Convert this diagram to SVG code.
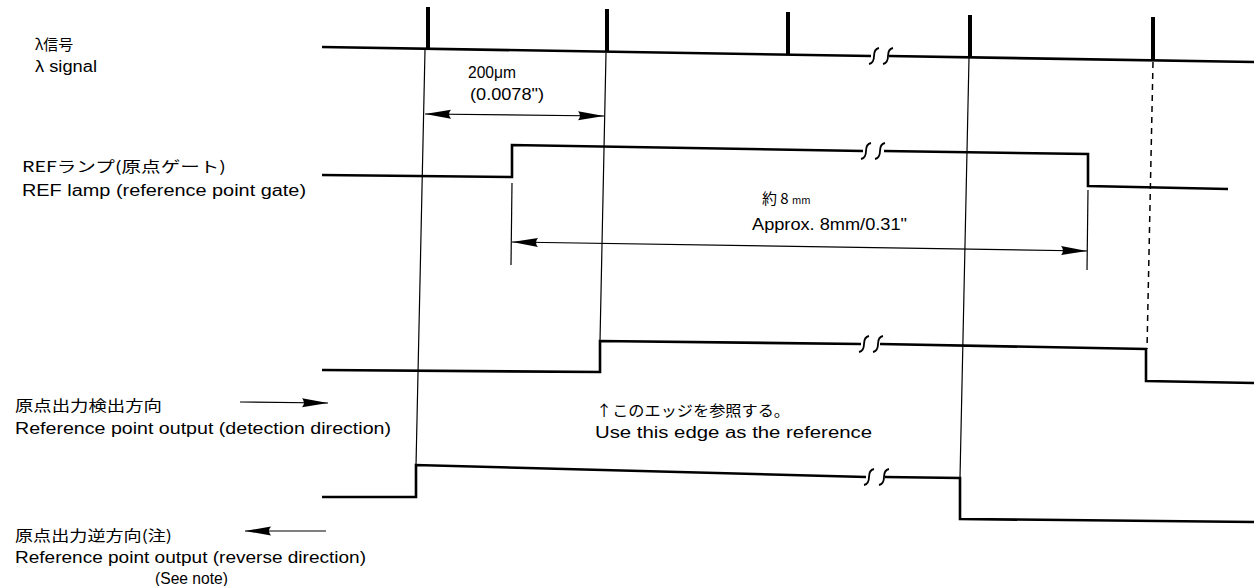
<svg xmlns="http://www.w3.org/2000/svg" width="1254" height="586" viewBox="0 0 1254 586">
<style>
.sig{fill:none;stroke:#000;stroke-width:2.6;stroke-linejoin:miter}
.thin{fill:none;stroke:#000;stroke-width:1.2}
.tick{stroke:#000;stroke-width:4}
.brk{fill:none;stroke:#000;stroke-width:1.8}
.dash{fill:none;stroke:#000;stroke-width:1.5;stroke-dasharray:6,5}
.t{font-family:"Liberation Sans","Noto Sans CJK JP",sans-serif;font-size:16px;fill:#000}
.j{font-family:"Noto Sans CJK JP","Liberation Sans",sans-serif;font-size:15px;fill:#000}
</style>
<defs>
<marker id="ah" viewBox="0 0 26 10" refX="26" refY="5" markerWidth="26" markerHeight="10" markerUnits="userSpaceOnUse" orient="auto-start-reverse">
<path d="M0,0.5 L26,5 L0,9.5 Q4,5 0,0.5 Z" fill="#000"/>
</marker>
</defs>

<g id="lambda-signal">
<path class="sig" d="M322,47 L871,56 M889,56 L1254,62"/>
<path class="brk" d="M869,64 Q874,63 874,56 Q874,49 879,48 M883,64 Q888,63 888,56 Q888,49 893,48"/>
<line class="tick" x1="428" y1="7" x2="428" y2="49"/>
<line class="tick" x1="607" y1="9" x2="607" y2="52"/>
<line class="tick" x1="788" y1="12" x2="788" y2="55"/>
<line class="tick" x1="970" y1="15" x2="970" y2="58"/>
<line class="tick" x1="1153" y1="17" x2="1153" y2="61"/>
<text class="j" x="35" y="50">λ信号</text>
<text class="t" x="35" y="72" textLength="62" lengthAdjust="spacingAndGlyphs">λ signal</text>
</g>

<g id="ref-lamp">
<path class="sig" d="M322,175 L512,177 L512,145 L863,151 M884,151 L1088,154 L1088,186 L1228,189"/>
<path class="brk" d="M861,159 Q866,158 866,151 Q866,144 871,143 M875,159 Q880,158 880,151 Q880,144 885,143"/>
<text class="j" x="22" y="172" textLength="204" lengthAdjust="spacingAndGlyphs">REFランプ(原点ゲート)</text>
<text class="t" x="22" y="196" textLength="284" lengthAdjust="spacingAndGlyphs">REF lamp (reference point gate)</text>
</g>

<g id="detection-output">
<path class="sig" d="M322,370 L600,372 L600,341 L861,344 M880,344 L1146,349 L1146,381 L1254,383"/>
<path class="brk" d="M859,352 Q864,351 864,344 Q864,337 869,336 M873,352 Q878,351 878,344 Q878,337 883,336"/>
<text class="j" x="15" y="411" textLength="147" lengthAdjust="spacingAndGlyphs">原点出力検出方向</text>
<text class="t" x="15" y="434" textLength="376" lengthAdjust="spacingAndGlyphs">Reference point output (detection direction)</text>
</g>

<g id="reverse-output">
<path class="sig" d="M322,497 L416,497 L416,465 L866,477 M885,477 L960,478 L960,519 L1254,522"/>
<path class="brk" d="M864,485 Q869,484 869,477 Q869,470 874,469 M879,485 Q884,484 884,477 Q884,470 889,469"/>
<text class="j" x="15" y="541" textLength="157" lengthAdjust="spacingAndGlyphs">原点出力逆方向(注)</text>
<text class="t" x="15" y="563" textLength="351" lengthAdjust="spacingAndGlyphs">Reference point output (reverse direction)</text>
<text class="t" x="155" y="584" textLength="73" lengthAdjust="spacingAndGlyphs">(See note)</text>
</g>

<g id="annotations">
<text class="t" x="468" y="78" textLength="48" lengthAdjust="spacingAndGlyphs">200μm</text>
<text class="t" x="470" y="100" textLength="74" lengthAdjust="spacingAndGlyphs">(0.0078")</text>
<text class="j" x="762" y="204">約 8 <tspan font-size="10">mm</tspan></text>
<text class="t" x="752" y="230" textLength="155" lengthAdjust="spacingAndGlyphs">Approx. 8mm/0.31"</text>
<text class="j" x="596" y="416" textLength="194" lengthAdjust="spacingAndGlyphs">↑このエッジを参照する。</text>
<text class="t" x="595" y="438" textLength="277" lengthAdjust="spacingAndGlyphs">Use this edge as the reference</text>
</g>

<g id="connectors">
<line class="thin" x1="425" y1="50" x2="416" y2="466"/>
<line class="thin" x1="606" y1="53" x2="600" y2="341"/>
<line class="thin" x1="969" y1="58" x2="960" y2="478"/>
<line class="dash" x1="1153" y1="62" x2="1147" y2="349"/>
<line class="thin" x1="512" y1="183" x2="511" y2="265"/>
<line class="thin" x1="1088" y1="190" x2="1087" y2="270"/>
<line class="thin" x1="425" y1="114" x2="604" y2="116" marker-start="url(#ah)" marker-end="url(#ah)"/>
<line class="thin" x1="512" y1="242" x2="1087" y2="251" marker-start="url(#ah)" marker-end="url(#ah)"/>
<line class="thin" x1="240" y1="402" x2="328" y2="403" marker-end="url(#ah)"/>
<line class="thin" x1="326" y1="531" x2="245" y2="531" marker-end="url(#ah)"/>
</g>
</svg>
